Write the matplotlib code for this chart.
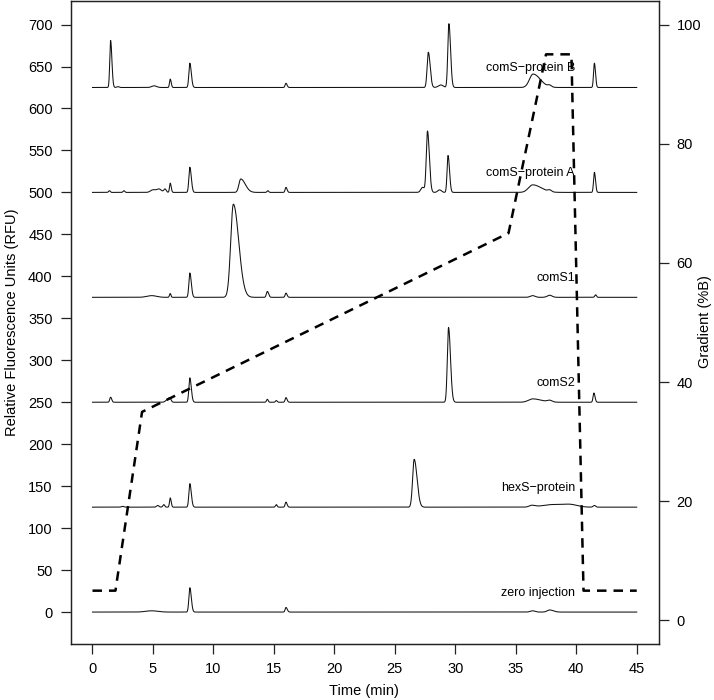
import numpy as np
import matplotlib
matplotlib.use("Agg")
import matplotlib.pyplot as plt

plt.rcParams['font.family'] = ['Liberation Sans', 'DejaVu Sans']

# chromatogram traces: offset baseline + peak table (time, height, width, tailing)
names = ["zero injection", "hexS\u2212protein", "comS2", "comS1",
         "comS\u2212protein A", "comS\u2212protein B"]
offsets = [0, 125, 250, 375, 500, 625]

zero_t = [4.9, 8.05, 16.0, 36.4, 37.8]
zero_h = [1.5, 29, 5.5, 1.5, 2.5]
zero_w = [0.5, 0.08, 0.07, 0.2, 0.2]
zero_k = [1, 1.5, 1.5, 1, 1.5]

hexs_t = [2.5, 5.4, 5.9, 6.43, 8.05, 15.2, 16.0, 26.6, 36.3, 38.0, 39.5, 41.5]
hexs_h = [1, 2, 3, 11, 28, 3, 6, 57, 2, 3, 3, 2]
hexs_w = [0.1, 0.1, 0.08, 0.06, 0.08, 0.07, 0.07, 0.13, 0.2, 0.8, 0.6, 0.1]
hexs_k = [1, 1, 1, 1.3, 1.5, 1, 1.3, 1.8, 1.5, 1, 1, 1]

coms2_t = [1.5, 6.2, 6.4, 8.05, 14.46, 15.2, 16.0, 29.44, 36.4, 37.8, 41.46]
coms2_h = [6, 3, 4, 29, 3.5, 2, 5.5, 89, 4, 2, 11]
coms2_w = [0.07, 0.15, 0.1, 0.08, 0.07, 0.07, 0.07, 0.1, 0.35, 0.2, 0.07]
coms2_k = [1.3, 1, 1, 1.5, 1, 1, 1.3, 1.6, 2, 1, 1.3]

coms1_t = [4.9, 6.43, 8.05, 11.65, 14.46, 16.0, 36.4, 37.8, 41.6]
coms1_h = [2, 4.5, 29, 111, 7, 5, 2, 2.5, 3]
coms1_w = [0.4, 0.06, 0.08, 0.22, 0.08, 0.07, 0.2, 0.2, 0.07]
coms1_k = [1, 1, 1.5, 2.0, 1.3, 1.3, 1, 1, 1]

protA_t = [1.4, 2.6, 5.0, 5.5, 6.0, 6.43, 8.05, 12.26, 14.5, 16.0,
           27.3, 27.7, 28.7, 29.4, 36.4, 37.8, 41.5]
protA_h = [2, 2, 3, 4, 4, 11, 30, 16, 2, 6, 6, 73, 3, 44, 9, 2, 24]
protA_w = [0.07, 0.07, 0.2, 0.2, 0.1, 0.06, 0.08, 0.15, 0.07, 0.07,
           0.15, 0.1, 0.15, 0.08, 0.35, 0.15, 0.07]
protA_k = [1, 1, 1, 1, 1, 1.3, 1.5, 2.5, 1, 1.3, 1, 1.5, 1, 1.5, 2, 1, 1.3]

protB_t = [1.5, 2.1, 5.1, 6.43, 8.05, 16.0, 27.77, 28.8, 29.47, 36.43, 37.8, 41.5]
protB_h = [56, 1, 2, 10, 29, 5, 42, 3, 76, 16, 2, 29]
protB_w = [0.07, 0.1, 0.2, 0.06, 0.08, 0.07, 0.1, 0.2, 0.09, 0.3, 0.15, 0.07]
protB_k = [1.5, 1, 1, 1.3, 1.5, 1.3, 1.5, 1, 1.5, 2, 1, 1.3]

peak_tables = [
    (zero_t, zero_h, zero_w, zero_k),
    (hexs_t, hexs_h, hexs_w, hexs_k),
    (coms2_t, coms2_h, coms2_w, coms2_k),
    (coms1_t, coms1_h, coms1_w, coms1_k),
    (protA_t, protA_h, protA_w, protA_k),
    (protB_t, protB_h, protB_w, protB_k),
]

# gradient program (%B)
grad_time = [0, 1.9, 4.1, 34.4, 37.5, 39.6, 40.6, 45]
grad_b = [5, 5, 35, 65, 95, 95, 5, 5]


def trace(t, table, base):
    tt, hh, ww, kk = table
    y = np.full_like(t, base, dtype=float)
    for t0, h, w, k in zip(tt, hh, ww, kk):
        s = np.where(t < t0, w, w * k)
        y += h * np.exp(-0.5 * ((t - t0) / s) ** 2)
    return y


time = np.linspace(0, 45, 4501)

fig = plt.figure(figsize=(7.14, 7.0), dpi=100)
ax = fig.add_axes([70.7 / 714, 55.7 / 700, 587.8 / 714, 643.6 / 700])

for name, base, table in zip(names, offsets, peak_tables):
    ax.plot(time, trace(time, table, base), color='#111111', lw=0.75)
    ax.text(39.9, base + 23, name, ha='right', va='center', fontsize=9)

ax.set_xlim(-1.8, 46.8)
ax.set_ylim(-38.4, 728.4)
ax.set_xticks(np.arange(0, 46, 5))
ax.set_yticks(np.arange(0, 701, 50))

ax2 = ax.twinx()
ax2.plot(grad_time, grad_b, color='black', lw=1.8, dashes=(3.8, 2.8))
ax2.set_ylim(-4, 104)
ax2.set_yticks(np.arange(0, 101, 20))

for a in (ax, ax2):
    for sp in a.spines.values():
        sp.set_linewidth(0.9)
        sp.set_color('#222222')
    a.tick_params(direction='out', length=7, width=0.9, labelsize=10.5, pad=6,
                  color='#222222')

fig.text(12 / 714, 1 - 322 / 700, "Relative Fluorescence Units (RFU)",
         rotation=90, ha='center', va='center', fontsize=10.5)
fig.text(705 / 714, 1 - 322 / 700, "Gradient (%B)",
         rotation=90, ha='center', va='center', fontsize=10.5)
fig.text(364 / 714, 1 - 691 / 700, "Time (min)",
         ha='center', va='center', fontsize=10.5)

fig.savefig("out.png", dpi=100)
